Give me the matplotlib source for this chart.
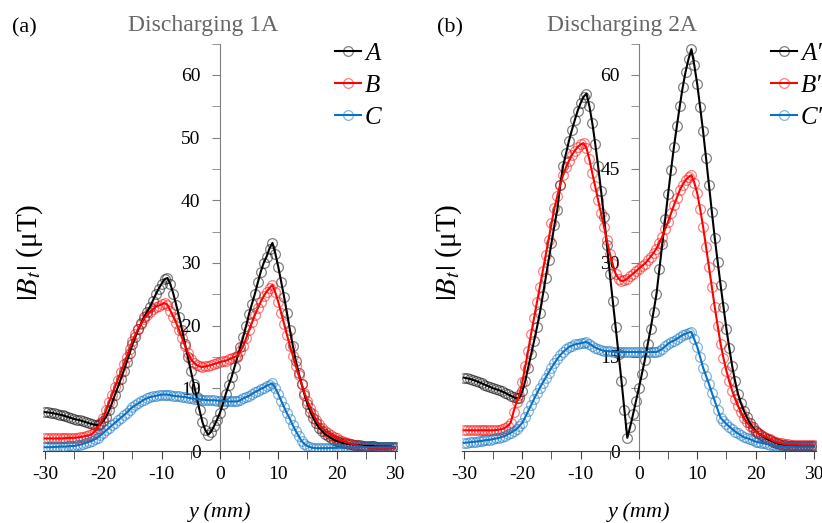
import numpy as np
import matplotlib
matplotlib.use("Agg")
import matplotlib.pyplot as plt
from matplotlib.lines import Line2D
from matplotlib.colors import to_rgba
from matplotlib.ticker import MultipleLocator

plt.rcParams['font.family'] = ['Liberation Serif', 'DejaVu Serif']
plt.rcParams['mathtext.fontset'] = 'stix'
plt.rcParams['axes.unicode_minus'] = False

# position along the scan line (mm), 0.5 mm step
pos_mm = np.linspace(-30, 30, 121)

# |Bt| (uT), discharging 1A
bt_A = [6.2, 6.15, 6.1, 6.0, 5.9, 5.8, 5.7, 5.55, 5.4, 5.25,
        5.1, 5.0, 4.9, 4.75, 4.6, 4.45, 4.3, 4.2, 4.1, 4.3,
        4.8, 5.5, 6.5, 7.7, 9.0, 10.2, 11.5, 12.8, 14.2, 15.6,
        17.0, 18.2, 19.4, 20.4, 21.4, 22.2, 23.0, 24.0, 25.0, 25.9,
        26.7, 27.4, 27.6, 26.6, 25.1, 23.3, 21.4, 19.3, 17.1, 15.0,
        12.8, 10.7, 8.6, 6.5, 4.6, 3.3, 2.6, 3.1, 4.0, 5.0,
        6.1, 7.5, 9.1, 10.5, 11.8, 13.4, 15.0, 16.6, 18.2, 20.0,
        21.9, 23.5, 25.1, 26.9, 28.6, 30.0, 31.0, 32.3, 33.2, 31.5,
        29.4, 27.0, 24.6, 22.0, 19.3, 16.8, 14.4, 12.5, 10.7, 9.0,
        7.5, 6.3, 5.3, 4.4, 3.7, 3.2, 2.7, 2.4, 2.1, 1.8,
        1.6, 1.45, 1.3, 1.2, 1.1, 1.05, 1.0, 0.95, 0.9, 0.85,
        0.8, 0.8, 0.8, 0.75, 0.7, 0.7, 0.7, 0.7, 0.7, 0.65,
        0.6]
bt_B = [2.0, 2.0, 2.0, 2.0, 2.0, 2.0, 2.0, 2.05, 2.1, 2.1,
        2.1, 2.15, 2.2, 2.3, 2.4, 2.5, 2.7, 3.1, 3.7, 4.4,
        5.3, 6.5, 7.8, 9.0, 10.2, 11.4, 12.6, 13.8, 15.0, 16.3,
        17.6, 18.6, 19.5, 20.3, 21.1, 21.7, 22.2, 22.6, 23.0, 23.2,
        23.4, 23.6, 23.3, 22.4, 21.4, 20.4, 19.3, 18.0, 16.8, 15.7,
        14.7, 14.1, 13.7, 13.5, 13.4, 13.5, 13.6, 13.7, 13.9, 14.0,
        14.2, 14.3, 14.4, 14.6, 14.8, 15.0, 15.2, 15.9, 16.8, 18.0,
        19.3, 20.5, 21.7, 22.8, 23.8, 24.7, 25.4, 26.0, 26.5, 25.3,
        23.8, 22.0, 20.3, 18.5, 16.8, 15.2, 13.6, 12.1, 10.7, 9.3,
        8.0, 6.9, 5.9, 5.0, 4.3, 3.7, 3.2, 2.9, 2.6, 2.3,
        2.0, 1.8, 1.6, 1.45, 1.3, 1.15, 1.0, 0.9, 0.8, 0.7,
        0.6, 0.5, 0.4, 0.4, 0.35, 0.3, 0.3, 0.3, 0.35, 0.4,
        0.4]
bt_C = [0.6, 0.6, 0.6, 0.65, 0.65, 0.7, 0.7, 0.7, 0.75, 0.8,
        0.8, 0.9, 1.0, 1.15, 1.3, 1.45, 1.6, 1.85, 2.1, 2.5,
        2.9, 3.3, 3.7, 4.1, 4.5, 4.9, 5.3, 5.7, 6.1, 6.6,
        7.0, 7.3, 7.6, 7.9, 8.2, 8.4, 8.6, 8.7, 8.8, 8.9,
        9.0, 9.0, 9.0, 8.9, 8.8, 8.75, 8.7, 8.65, 8.6, 8.5,
        8.4, 8.35, 8.3, 8.25, 8.2, 8.15, 8.1, 8.1, 8.1, 8.05,
        8.0, 8.0, 7.9, 7.9, 7.9, 7.9, 7.9, 8.1, 8.4, 8.6,
        8.8, 9.1, 9.4, 9.6, 9.9, 10.1, 10.4, 10.6, 10.8, 10.0,
        9.1, 8.0, 7.0, 6.0, 5.1, 4.1, 3.2, 2.4, 1.6, 1.1,
        0.8, 0.6, 0.5, 0.45, 0.45, 0.45, 0.45, 0.45, 0.5, 0.5,
        0.5, 0.55, 0.55, 0.6, 0.6, 0.6, 0.6, 0.6, 0.6, 0.6,
        0.6, 0.6, 0.6, 0.6, 0.6, 0.6, 0.6, 0.6, 0.6, 0.6,
        0.6]

# |Bt| (uT), discharging 2A
bt_A2 = [11.7, 11.6, 11.5, 11.35, 11.2, 11.0, 10.8, 10.6, 10.4, 10.2,
         10.0, 9.85, 9.7, 9.5, 9.3, 9.05, 8.8, 8.6, 8.4, 8.5,
         9.5, 11.2, 13.3, 15.4, 17.5, 19.7, 22.0, 24.8, 27.6, 30.4,
         33.2, 36.0, 38.5, 42.5, 45.5, 47.5, 49.5, 51.2, 52.8, 54.3,
         55.5, 56.5, 57.0, 55.0, 52.3, 49.0, 45.4, 41.5, 37.4, 32.9,
         28.3, 24.0, 19.8, 15.5, 11.2, 6.6, 2.1, 3.9, 5.9, 8.0,
         10.1, 12.3, 14.5, 17.0, 19.5, 22.2, 25.0, 29.0, 33.0, 37.0,
         41.0, 44.8, 48.5, 51.8, 55.0, 58.0, 60.5, 62.5, 64.1, 61.5,
         58.5, 54.8, 51.0, 46.8, 42.5, 38.2, 34.0, 30.2, 26.5, 23.0,
         19.5, 16.4, 13.5, 11.1, 9.1, 7.6, 6.4, 5.4, 4.5, 3.8,
         3.2, 2.8, 2.5, 2.2, 1.9, 1.7, 1.5, 1.3, 1.1, 1.0,
         0.9, 0.85, 0.8, 0.8, 0.8, 0.8, 0.8, 0.8, 0.8, 0.8,
         0.8]
bt_B2 = [3.3, 3.3, 3.3, 3.3, 3.3, 3.3, 3.3, 3.3, 3.3, 3.3,
         3.3, 3.35, 3.4, 3.5, 3.7, 4.0, 4.5, 6.3, 7.8, 9.0,
         11.0, 13.5, 16.0, 18.7, 21.2, 23.7, 26.2, 28.7, 31.2, 33.7,
         36.3, 38.7, 40.7, 42.5, 44.0, 45.3, 46.3, 47.2, 47.9, 48.5,
         48.9, 49.1, 48.3, 46.5, 44.3, 42.2, 40.0, 37.9, 35.8, 33.6,
         31.5, 29.8, 28.3, 27.5, 27.1, 27.2, 27.5, 27.9, 28.3, 28.7,
         29.1, 29.5, 29.9, 30.4, 31.0, 31.6, 32.3, 33.2, 34.2, 35.4,
         36.6, 37.9, 39.2, 40.4, 41.6, 42.5, 43.2, 43.7, 44.0, 42.8,
         41.1, 38.6, 35.8, 32.6, 29.4, 26.2, 23.0, 20.0, 17.1, 14.8,
         12.8, 11.1, 9.6, 8.3, 7.2, 6.2, 5.3, 4.6, 4.0, 3.5,
         3.1, 2.8, 2.5, 2.3, 2.1, 1.9, 1.6, 1.4, 1.3, 1.2,
         1.1, 1.05, 1.0, 1.0, 1.0, 0.95, 0.9, 0.9, 0.9, 0.9,
         0.9]
bt_C2 = [1.3, 1.35, 1.4, 1.45, 1.5, 1.55, 1.6, 1.7, 1.75, 1.8,
         1.9, 2.0, 2.1, 2.25, 2.4, 2.65, 2.9, 3.2, 3.5, 4.0,
         4.5, 5.4, 6.4, 7.3, 8.3, 9.2, 10.1, 10.9, 11.7, 12.5,
         13.3, 14.0, 14.7, 15.3, 15.8, 16.2, 16.6, 16.8, 17.0, 17.1,
         17.2, 17.3, 17.4, 17.1, 16.8, 16.5, 16.3, 16.1, 16.0, 15.95,
         15.9, 15.85, 15.8, 15.8, 15.8, 15.8, 15.8, 15.8, 15.8, 15.8,
         15.8, 15.8, 15.8, 15.8, 15.8, 15.8, 15.8, 16.0, 16.3, 16.7,
         17.1, 17.4, 17.6, 17.9, 18.2, 18.5, 18.7, 18.9, 19.0, 17.8,
         16.6, 15.0, 13.3, 12.0, 10.7, 9.3, 8.0, 6.6, 5.3, 4.8,
         4.3, 3.9, 3.5, 3.1, 2.8, 2.5, 2.2, 2.05, 1.9, 1.7,
         1.5, 1.4, 1.3, 1.2, 1.1, 1.0, 0.9, 0.85, 0.8, 0.75,
         0.7, 0.7, 0.65, 0.65, 0.6, 0.6, 0.6, 0.6, 0.6, 0.6,
         0.6]

labels_1 = ['A', 'B', 'C']
labels_2 = ['A\u2032', 'B\u2032', 'C\u2032']
colors = ['#000000', '#ff0000', '#0a70c0']

W, H = 822, 523
fig = plt.figure(figsize=(W / 100, H / 100), dpi=100)


def px_box(x0, y_bottom, w, h):
    """pixel box (top-left origin) -> figure fraction"""
    return [x0 / W, 1 - y_bottom / H, w / W, h / H]


def draw(ax, series, labels, ystep, title, tag, title_x, tag_x, leg_x):
    for vals, c in zip(series, colors):
        ax.plot(pos_mm, vals, color=c, lw=1.5, zorder=3)
        ax.plot(pos_mm, vals, ls='none', marker='o', ms=7, mfc='none',
                mec=to_rgba(c, 0.5), mew=0.9, zorder=2)

    ax.set_xlim(-30.3, 30.3)
    ax.set_ylim(0, 65)
    for s in ['top', 'right']:
        ax.spines[s].set_visible(False)
    ax.spines['left'].set_position(('data', 0))
    ax.spines['bottom'].set_position(('data', 0))
    ax.spines['left'].set_color('#808080')
    ax.spines['bottom'].set_color('#404040')
    ax.patch.set_alpha(0)

    ax.xaxis.set_major_locator(MultipleLocator(10))
    ax.xaxis.set_minor_locator(MultipleLocator(5))
    ax.yaxis.set_major_locator(MultipleLocator(ystep))
    ax.yaxis.set_minor_locator(MultipleLocator(5))
    ax.tick_params(axis='x', which='both', direction='out', length=6,
                   color='#404040', labelsize=14, pad=5)
    ax.tick_params(axis='y', which='both', direction='out', length=6,
                   color='#808080', labelsize=14, pad=8)

    handles = [Line2D([], [], color=c, lw=1.5, marker='o', ms=7, mfc='none',
                      mec=to_rgba(c, 0.5), mew=0.9) for c in colors]
    ax.legend(handles, labels, loc='upper left', frameon=False,
              prop={'size': 18, 'style': 'italic'},
              bbox_to_anchor=(leg_x / W, 1 - 42 / H), bbox_transform=fig.transFigure,
              handlelength=1.05, handletextpad=0.15, labelspacing=0.38,
              borderpad=0, borderaxespad=0, numpoints=1)

    fig.text(title_x / W, 1 - 25 / H, title, ha='center', va='center',
             fontsize=17, color='#666666')
    fig.text(tag_x / W, 1 - 28 / H, tag, ha='center', va='center', fontsize=16)


ax1 = fig.add_axes(px_box(43.3, 451, 353.3, 407.5))
draw(ax1, [bt_A, bt_B, bt_C], labels_1, 10, 'Discharging 1A', '(a)', 203, 24, 335)
ax2 = fig.add_axes(px_box(462.3, 451, 353.3, 407.5))
draw(ax2, [bt_A2, bt_B2, bt_C2], labels_2, 15, 'Discharging 2A', '(b)', 622, 450, 771)

for xc in [220, 639]:
    fig.text(xc / W, 1 - 512 / H, 'y (mm)', ha='center', va='center',
             fontsize=16, style='italic')
for xc in [30, 449]:
    fig.text(xc / W, 1 - 252 / H, r'$|B_t|$ (μT)', ha='center', va='center',
             fontsize=21, rotation=90)

fig.savefig('out.png', dpi=100)
